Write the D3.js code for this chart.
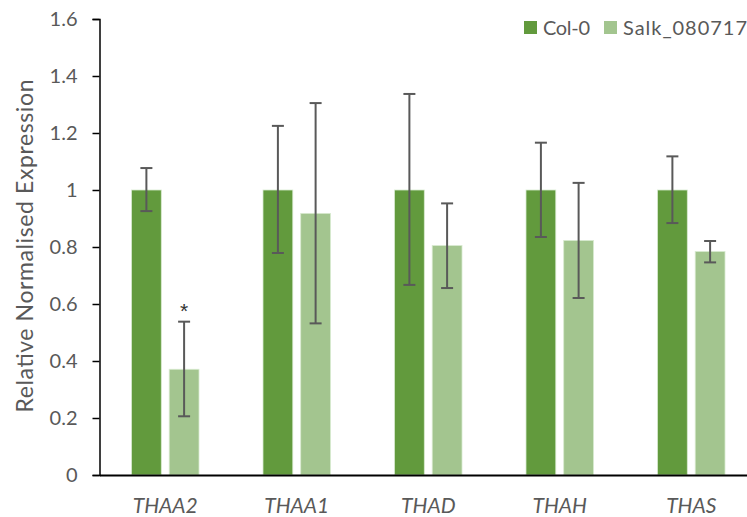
<!DOCTYPE html>
<html>
<head>
<meta charset="utf-8">
<script src="https://cdn.jsdelivr.net/npm/d3@7"></script>
<style>
  body { margin: 0; background: #fff; }
  text { font-family: Lato, "Open Sans", sans-serif; }
</style>
</head>
<body>
<div id="chart"></div>
<script>
const genes = ["THAA2", "THAA1", "THAD", "THAH", "THAS"];
const lines = ["Col-0", "Salk_080717"];
const colValues = [1, 1, 1, 1, 1];
const colLow = [0.926, 0.779, 0.667, 0.835, 0.884];
const colHigh = [1.077, 1.225, 1.337, 1.166, 1.118];
const salkValues = [0.371, 0.918, 0.805, 0.823, 0.784];
const salkLow = [0.206, 0.532, 0.656, 0.621, 0.746];
const salkHigh = [0.538, 1.305, 0.953, 1.025, 0.821];
const yTicks = [0, 0.2, 0.4, 0.6, 0.8, 1, 1.2, 1.4, 1.6];
const significant = ["THAA2"];

const width = 747, height = 517;
const colors = { "Col-0": "#629a3d", "Salk_080717": "#a3c58f" };
const fontStack = "Lato, 'Open Sans', sans-serif";

const rows = [];
genes.forEach((g, i) => {
  rows.push({ gene: g, line: "Col-0", value: colValues[i], low: colLow[i], high: colHigh[i] });
  rows.push({ gene: g, line: "Salk_080717", value: salkValues[i], low: salkLow[i], high: salkHigh[i] });
});

const svg = d3.select("#chart").append("svg")
  .attr("width", width)
  .attr("height", height);

const x = d3.scaleBand().domain(genes).range([99.5, 757]).paddingInner(0).paddingOuter(0);
const xInner = d3.scaleBand().domain(lines).range([32, x.bandwidth() - 32]).paddingInner(0.21);
const y = d3.scaleLinear().domain([0, 1.6]).range([475, 19]);

// Bars
svg.append("g")
  .selectAll("rect")
  .data(rows)
  .join("rect")
  .attr("x", d => x(d.gene) + xInner(d.line))
  .attr("y", d => y(d.value))
  .attr("width", xInner.bandwidth())
  .attr("height", d => y(0) - y(d.value))
  .attr("fill", d => colors[d.line])
  .attr("stroke", "#d8ead0")
  .attr("stroke-width", 0.8);

// Error bars
const err = svg.append("g")
  .attr("stroke", "#595959")
  .attr("stroke-width", 2);
const cx = d => x(d.gene) + xInner(d.line) + xInner.bandwidth() / 2;
err.selectAll("line.v").data(rows).join("line")
  .attr("class", "v")
  .attr("x1", cx).attr("x2", cx)
  .attr("y1", d => y(d.low)).attr("y2", d => y(d.high));
err.selectAll("line.t").data(rows).join("line")
  .attr("class", "t")
  .attr("x1", d => cx(d) - 6).attr("x2", d => cx(d) + 6)
  .attr("y1", d => y(d.high)).attr("y2", d => y(d.high));
err.selectAll("line.b").data(rows).join("line")
  .attr("class", "b")
  .attr("x1", d => cx(d) - 6).attr("x2", d => cx(d) + 6)
  .attr("y1", d => y(d.low)).attr("y2", d => y(d.low));

// Significance
svg.append("g")
  .selectAll("text")
  .data(rows.filter(d => d.line === "Salk_080717" && significant.includes(d.gene)))
  .join("text")
  .attr("x", cx)
  .attr("y", d => y(d.high) - 4)
  .attr("text-anchor", "middle")
  .attr("font-size", 21)
  .attr("fill", "#333")
  .style("font-family", "'Liberation Sans', Arial, sans-serif")
  .text("*");

// Y axis
const yAxis = svg.append("g")
  .attr("transform", "translate(99.5,0)")
  .call(d3.axisLeft(y).tickValues(yTicks).tickFormat(d3.format("~g")).tickSize(7).tickPadding(15));
yAxis.select(".domain").attr("stroke", "#000").attr("stroke-width", 1.5);
yAxis.selectAll(".tick line").attr("stroke", "#000").attr("stroke-width", 1.5);
yAxis.selectAll(".tick text")
  .attr("font-size", 20)
  .attr("fill", "#595959")
  .style("font-family", fontStack);

// X axis
const xAxis = svg.append("g")
  .attr("transform", "translate(0,475)")
  .call(d3.axisBottom(x).tickSize(0).tickPadding(23));
xAxis.select(".domain").attr("stroke", "#000").attr("stroke-width", 2);
xAxis.selectAll(".tick text")
  .attr("font-size", 21)
  .attr("font-style", "italic")
  .attr("fill", "#595959")
  .style("font-family", fontStack);

// Y label
svg.append("text")
  .attr("transform", "translate(33,246) rotate(-90)")
  .attr("text-anchor", "middle")
  .attr("font-size", 23)
  .attr("textLength", 333)
  .attr("fill", "#595959")
  .text("Relative Normalised Expression");

// Legend
const legend = svg.append("g").attr("transform", "translate(524,21)");
const lx = [0, 80];
const lw = [47, 124];
lines.forEach((l, i) => {
  const g = legend.append("g").attr("transform", `translate(${lx[i]},0)`);
  g.append("rect").attr("width", 13).attr("height", 13).attr("fill", colors[l]);
  g.append("text")
    .attr("x", 19).attr("y", 14)
    .attr("font-size", 20)
    .attr("textLength", lw[i])
    .attr("fill", "#595959")
    .text(l);
});
</script>
</body>
</html>
